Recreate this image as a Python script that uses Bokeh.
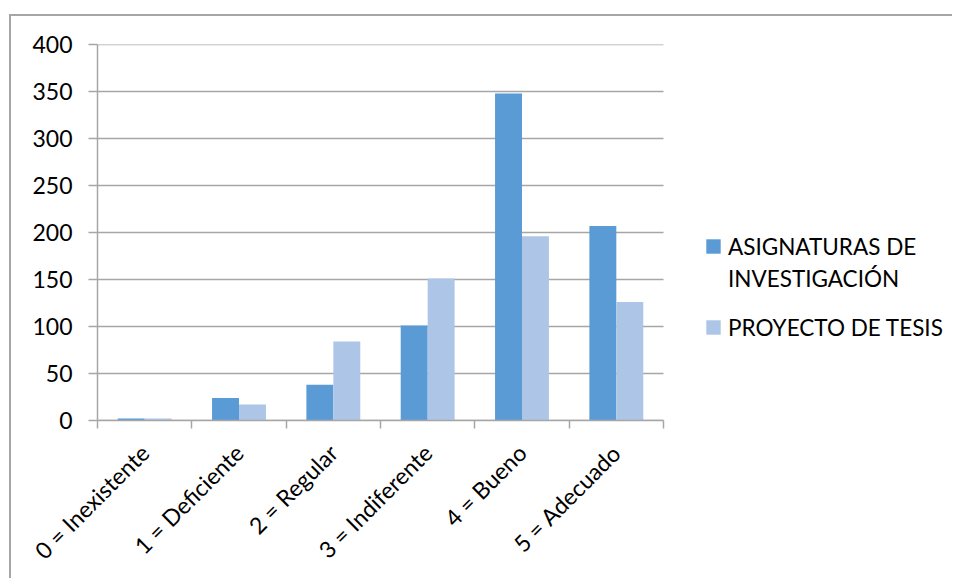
import math
from bokeh.plotting import figure
from bokeh.models import Range1d, FixedTicker, Legend, LegendItem, ColumnDataSource
from bokeh.embed import file_html
from bokeh.resources import INLINE

# ---- data ----
categories = ["0 = Inexistente", "1 = Deficiente", "2 = Regular",
              "3 = Indiferente", "4 = Bueno", "5 = Adecuado"]
asignaturas = [2, 24, 38, 101, 348, 207]
proyecto = [2, 17, 84, 151, 196, 126]
series_a_lines = ["ASIGNATURAS DE", "INVESTIGACIÓN"]
series_b = "PROYECTO DE TESIS"
y_ticks = [0, 50, 100, 150, 200, 250, 300, 350, 400]

BLUE = "#5b9bd5"
LIGHT = "#adc6e7"
GRID = "#a6a6a6"
FONT = "Lato"
FS = "23px"
LFS = "22.5px"

# layout constants (px)
W, H = 943, 564
ML, MT, MB, MR = 86, 28, 160, 0
CAT_PX = 566 / 6          # width of one category slot in the plot area

n = len(categories)
frame_w = W - ML - MR
x_end = frame_w / CAT_PX   # frame extends right to hold the legend

bw = 1 / 3.5
centers = [i + 0.5 for i in range(n)]
bounds = [float(i) for i in range(n + 1)]

src = ColumnDataSource(dict(
    xa=[c - bw / 2 for c in centers],
    xp=[c + bw / 2 for c in centers],
    a=asignaturas,
    p=proyecto,
))

p = figure(width=W, height=H, output_backend="svg", toolbar_location=None,
           x_range=Range1d(0, x_end), y_range=Range1d(0, 400),
           min_border_left=ML, min_border_right=MR, min_border_top=MT,
           min_border_bottom=MB)
p.styles = {"border-top": "2px solid #a6a6a6", "border-left": "2px solid #a6a6a6",
            "margin-top": "14px", "margin-left": "9px"}
p.outline_line_color = None
p.background_fill_color = "white"
p.border_fill_color = "white"
p.xgrid.grid_line_color = None
p.ygrid.grid_line_color = None

# horizontal gridlines limited to the plot area (0..n)
p.segment(x0=[0] * len(y_ticks), x1=[n] * len(y_ticks), y0=y_ticks, y1=y_ticks,
          line_color=GRID, line_width=1.5)

ra = p.vbar(x="xa", top="a", width=bw, source=src, fill_color=BLUE, line_color=None)
rp = p.vbar(x="xp", top="p", width=bw, source=src, fill_color=LIGHT, line_color=None)
rdummy = p.vbar(x=[], top=[], width=bw, fill_alpha=0, line_alpha=0)

# y axis
p.yaxis.ticker = FixedTicker(ticks=y_ticks)
p.yaxis.axis_line_color = GRID
p.yaxis.axis_line_width = 1.5
p.yaxis.major_tick_line_color = GRID
p.yaxis.major_tick_line_width = 1.5
p.yaxis.major_tick_out = 9
p.yaxis.major_tick_in = 0
p.yaxis.minor_tick_line_color = None
p.yaxis.major_label_standoff = 16
p.yaxis.major_label_text_font = FONT
p.yaxis.major_label_text_font_size = FS
p.yaxis.major_label_text_color = "black"

# x axis: ticks at category boundaries, labels at centres
p.xaxis.bounds = (0, n)
p.xaxis.ticker = FixedTicker(ticks=centers, minor_ticks=bounds)
p.xaxis.major_label_overrides = {c: lab for c, lab in zip(centers, categories)}
p.xaxis.axis_line_color = GRID
p.xaxis.axis_line_width = 1.5
p.xaxis.major_tick_line_color = None
p.xaxis.major_tick_out = 0
p.xaxis.major_tick_in = 0
p.xaxis.minor_tick_line_color = GRID
p.xaxis.minor_tick_line_width = 1.5
p.xaxis.minor_tick_out = 8
p.xaxis.minor_tick_in = 0
p.xaxis.major_label_orientation = math.pi / 4
p.xaxis.major_label_standoff = 20
p.xaxis.major_label_text_font = FONT
p.xaxis.major_label_text_font_size = FS
p.xaxis.major_label_text_color = "black"


def make_legend(items, loc):
    lg = Legend(items=items, location=loc)
    lg.label_text_font = FONT
    lg.label_text_font_size = LFS
    lg.label_text_color = "black"
    lg.glyph_width = 18
    lg.glyph_height = 18
    lg.label_standoff = 6
    lg.padding = 0
    lg.margin = 0
    lg.spacing = 0
    lg.label_height = 32
    lg.border_line_color = None
    lg.background_fill_alpha = 0
    return lg


leg_a = make_legend([LegendItem(label=series_a_lines[0], renderers=[ra]),
                     LegendItem(label=series_a_lines[1], renderers=[rdummy])], (607, 126))
leg_b = make_legend([LegendItem(label=series_b, renderers=[rp])], (607, 77))
p.add_layout(leg_a)
p.add_layout(leg_b)

open("out.html", "w").write(file_html(p, INLINE))
